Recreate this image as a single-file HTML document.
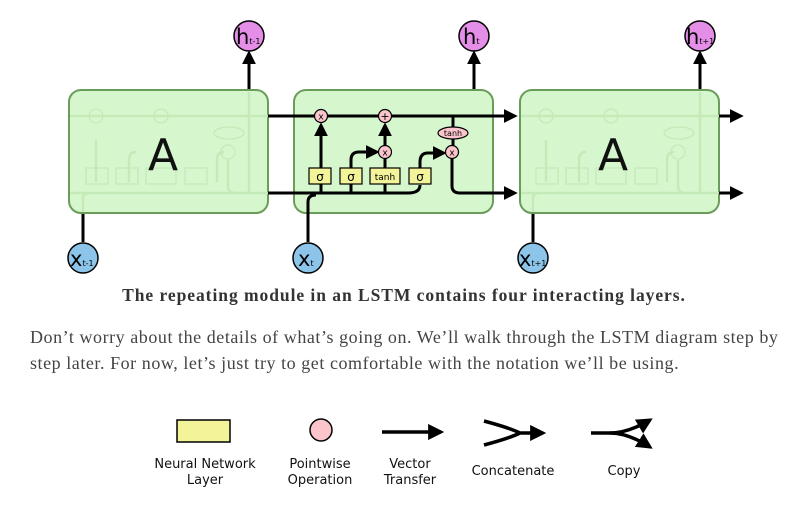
<!DOCTYPE html>
<html><head><meta charset="utf-8"><style>
body{margin:0;background:#fff;width:788px;height:512px;overflow:hidden;position:relative}
.cap{position:absolute;top:285px;left:0;width:808px;text-align:center;font:bold 17.5px "Liberation Serif",serif;letter-spacing:0.95px;color:#333}
.p{position:absolute;top:324px;left:30px;white-space:nowrap;font:18px/26px "Liberation Serif",serif;letter-spacing:0.55px;color:#444}
.lg{position:absolute;font:13px/16px "DejaVu Sans",sans-serif;color:#111;text-align:center}
</style></head><body>
<svg width="788" height="512" style="position:absolute;left:0;top:0">
<defs><marker id="a" viewBox="0 0 10 10" refX="8" refY="5" markerWidth="4.6" markerHeight="4.6" orient="auto"><path d="M0,0L10,5L0,10z" fill="#000"/></marker></defs>
<g fill="none" stroke="#000" stroke-width="3">
<line x1="249" y1="92" x2="249" y2="53" marker-end="url(#a)"/>
<line x1="474" y1="192" x2="474" y2="53" marker-end="url(#a)"/>
<line x1="700" y1="92" x2="700" y2="53" marker-end="url(#a)"/>
<line x1="83" y1="242" x2="83" y2="210"/><line x1="533" y1="242" x2="533" y2="210"/>
</g>
<rect x="69" y="90" width="199" height="123" rx="12" fill="#d6f7cd" stroke="#6a9c5a" stroke-width="2"/>
<rect x="294" y="90" width="199" height="123" rx="12" fill="#d6f7cd" stroke="#6a9c5a" stroke-width="2"/>
<rect x="520" y="90" width="199" height="123" rx="12" fill="#d6f7cd" stroke="#6a9c5a" stroke-width="2"/>
<g fill="none" stroke="#c4eab8" stroke-width="2.5">
<path d="M70,116H268M70,193H268M249,92V193M83,212V198Q83,193 90,193M96,182V140M129,182V160Q129,152 136,152M217,182V160Q217,152 224,152M228,160V186Q228,193 236,193"/>
<path d="M521,116H719M521,193H719M700,92V193M533,212V198Q533,193 540,193M546,182V140M579,182V160Q579,152 586,152M667,182V160Q667,152 674,152M678,160V186Q678,193 686,193"/>
<g stroke-width="1.3"><rect x="86" y="168" width="22" height="16"/><rect x="116" y="168" width="22" height="16"/><rect x="146" y="168" width="30" height="16"/><rect x="185" y="168" width="22" height="16"/><circle cx="96" cy="116" r="7"/><circle cx="161" cy="116" r="7"/><circle cx="228" cy="152" r="7"/><ellipse cx="229" cy="133" rx="15" ry="6"/>
<rect x="536" y="168" width="22" height="16"/><rect x="566" y="168" width="22" height="16"/><rect x="596" y="168" width="30" height="16"/><rect x="635" y="168" width="22" height="16"/><circle cx="546" cy="116" r="7"/><circle cx="611" cy="116" r="7"/><circle cx="678" cy="152" r="7"/><ellipse cx="679" cy="133" rx="15" ry="6"/></g>
</g>
<text x="163" y="170" font-family="DejaVu Sans,sans-serif" font-size="44" text-anchor="middle" fill="#111">A</text>
<text x="613" y="170" font-family="DejaVu Sans,sans-serif" font-size="44" text-anchor="middle" fill="#111">A</text>
<g fill="none" stroke="#000" stroke-width="3">
<line x1="268" y1="116" x2="515" y2="116" marker-end="url(#a)"/>
<path d="M268,193H408Q420,193 420,185"/>
<path d="M308,242V202Q308,195 316,195"/>
<line x1="719" y1="116" x2="741" y2="116" marker-end="url(#a)"/>
<line x1="719" y1="193" x2="741" y2="193" marker-end="url(#a)"/>
<path d="M453,116V128M452,158V186Q452,193 460,193H515" marker-end="url(#a)"/>
<line x1="321" y1="168" x2="321" y2="125" marker-end="url(#a)"/>
<line x1="321" y1="193" x2="321" y2="184"/><line x1="351" y1="193" x2="351" y2="184"/><line x1="385" y1="193" x2="385" y2="184"/>
<path d="M351,168V160Q351,152 359,152H377" marker-end="url(#a)"/>
<path d="M420,168V162Q420,153 428,153H444" marker-end="url(#a)"/>
<line x1="385" y1="168" x2="385" y2="159"/>
<line x1="385" y1="145" x2="385" y2="125" marker-end="url(#a)"/>
<line x1="453" y1="139" x2="453" y2="146"/>
</g>
<g stroke="#000" stroke-width="1.2" fill="#f3f39a">
<rect x="309" y="168" width="22" height="16"/><rect x="340" y="168" width="22" height="16"/><rect x="370" y="168" width="30" height="16"/><rect x="409" y="168" width="22" height="16"/>
</g>
<g stroke="#000" stroke-width="1.2" fill="#fcc5cb">
<circle cx="321" cy="116" r="6.5"/><circle cx="385" cy="116" r="6.5"/><circle cx="385" cy="152" r="6.5"/><circle cx="452" cy="152" r="6.5"/><ellipse cx="453" cy="133" rx="15" ry="6"/>
</g>
<g font-family="DejaVu Sans,sans-serif" text-anchor="middle" fill="#000">
<text x="320" y="181" font-size="12">σ</text><text x="351" y="181" font-size="12">σ</text><text x="385" y="180" font-size="9">tanh</text><text x="420" y="181" font-size="12">σ</text>
<text x="321" y="119.5" font-size="9">x</text><text x="385" y="120" font-size="11">+</text><text x="385" y="155.5" font-size="9">x</text><text x="452" y="155.5" font-size="9">x</text><text x="453" y="136" font-size="8">tanh</text>
</g>
<g stroke="#000" stroke-width="1.5" fill="#e48ee8">
<circle cx="249" cy="36" r="15"/><circle cx="474" cy="36" r="15"/><circle cx="700" cy="36" r="15"/></g>
<g stroke="#000" stroke-width="1.5" fill="#8cc4ea">
<circle cx="83" cy="258" r="15"/><circle cx="308" cy="258" r="15"/><circle cx="533" cy="258" r="15"/></g>
<g font-family="DejaVu Sans,sans-serif" fill="#000">
<text x="236" y="44" font-size="21">h<tspan font-size="8">t-1</tspan></text>
<text x="463" y="44" font-size="21">h<tspan font-size="8">t</tspan></text>
<text x="686" y="44" font-size="21">h<tspan font-size="8">t+1</tspan></text>
<text x="70" y="266" font-size="21">x<tspan font-size="8">t-1</tspan></text>
<text x="298" y="266" font-size="21">x<tspan font-size="8">t</tspan></text>
<text x="519" y="266" font-size="21">x<tspan font-size="8">t+1</tspan></text>
</g>
<rect x="177" y="420" width="53" height="22" fill="#f3f39a" stroke="#000" stroke-width="1.5"/>
<circle cx="321" cy="430" r="11" fill="#fcc5cb" stroke="#000" stroke-width="1.5"/>
<g fill="none" stroke="#000" stroke-width="3.5">
<line x1="382" y1="432" x2="441" y2="432" marker-end="url(#a)"/>
<path d="M484,421Q510,428 520,433M484,445Q510,438 520,433H543" marker-end="url(#a)"/>
<path d="M591,433H610Q628,433 650,420" marker-end="url(#a)"/>
<path d="M610,433Q628,433 650,447" marker-end="url(#a)"/>
</g>
</svg>
<div class="cap">The repeating module in an LSTM contains four interacting layers.</div>
<div class="p">Don’t worry about the details of what’s going on. We’ll walk through the LSTM diagram step by<br>step later. For now, let’s just try to get comfortable with the notation we’ll be using.</div>
<div class="lg" style="left:145px;top:457px;width:120px">Neural Network<br>Layer</div>
<div class="lg" style="left:270px;top:457px;width:100px">Pointwise<br>Operation</div>
<div class="lg" style="left:370px;top:457px;width:80px">Vector<br>Transfer</div>
<div class="lg" style="left:463px;top:464px;width:100px">Concatenate</div>
<div class="lg" style="left:584px;top:464px;width:80px">Copy</div>
</body></html>
